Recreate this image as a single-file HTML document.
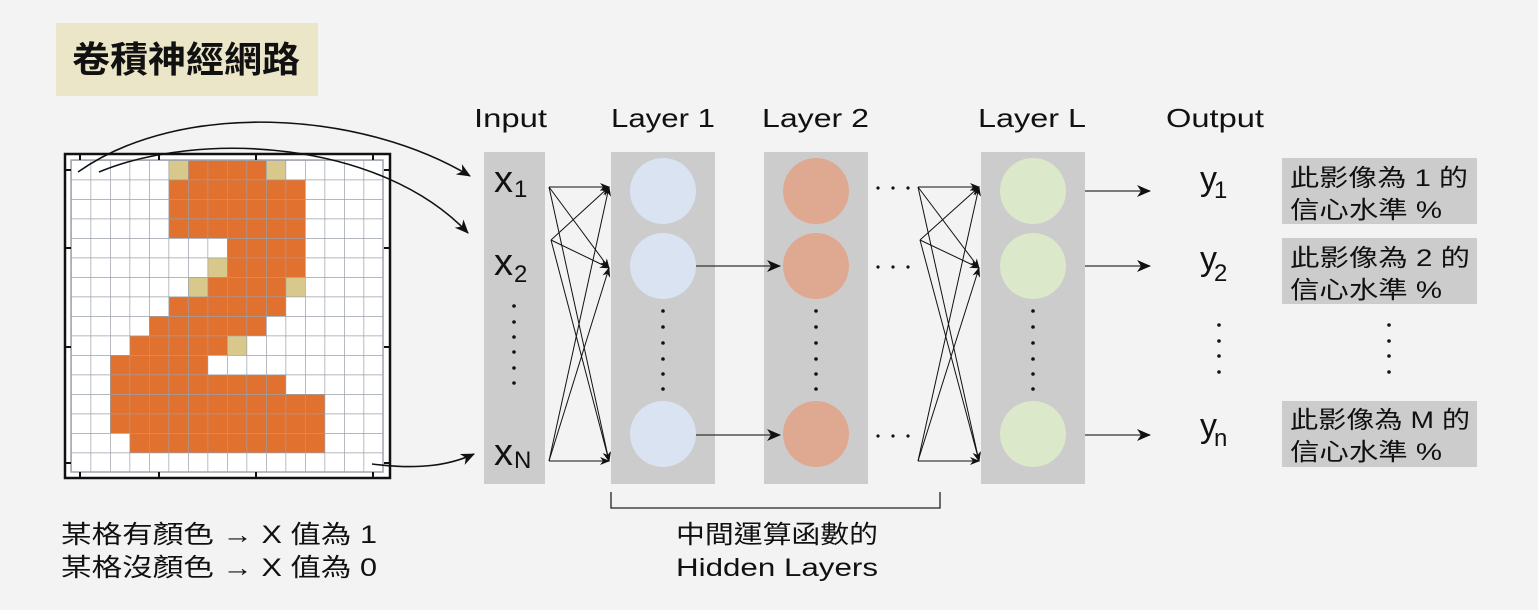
<!DOCTYPE html>
<html><head><meta charset="utf-8"><style>
html,body{margin:0;padding:0;background:#f3f3f3;}
svg{display:block}
text{font-family:"Liberation Sans","Noto Sans CJK TC",sans-serif;fill:#111}
</style></head><body>
<svg width="1538" height="610" viewBox="0 0 1538 610" xmlns="http://www.w3.org/2000/svg">
<defs>
<marker id="ah" markerWidth="10" markerHeight="8" refX="9" refY="4" orient="auto" markerUnits="userSpaceOnUse"><path d="M0,0 L10,4 L0,8 L3,4 Z" fill="#111"/></marker>
<marker id="ah2" markerWidth="14" markerHeight="12" refX="13" refY="6" orient="auto" markerUnits="userSpaceOnUse"><path d="M0,0 L14,6 L0,12 L4,6 Z" fill="#111"/></marker>
<pattern id="grid" x="71" y="160" width="19.5" height="19.5" patternUnits="userSpaceOnUse"><path d="M0,0 H19.5 M0,0 V19.5" stroke="#9aa0a8" stroke-width="1.4" fill="none"/></pattern>
</defs>
<rect x="0" y="0" width="1538" height="610" fill="#f3f3f3"/>
<rect x="56" y="23" width="262" height="73" fill="#ece6c9"/>
<text x="72" y="72" font-size="36" font-weight="bold" textLength="228" lengthAdjust="spacingAndGlyphs">卷積神經網路</text>

<rect x="65" y="154" width="325" height="324" fill="#fff" stroke="#111" stroke-width="2.5"/>
<g fill="#e1712f">
<rect x="188" y="160" width="78" height="19.5"/>
<rect x="168.5" y="179.5" width="136.5" height="58.5"/>
<rect x="227" y="238" width="78" height="39"/>
<rect x="207.5" y="277" width="78" height="19.5"/>
<rect x="168.5" y="296.5" width="117" height="19.5"/>
<rect x="149" y="316" width="117" height="19.5"/>
<rect x="129.5" y="335.5" width="97.5" height="19.5"/>
<rect x="110" y="355" width="97.5" height="19.5"/>
<rect x="110" y="374.5" width="175.5" height="19.5"/>
<rect x="110" y="394" width="214.5" height="39"/>
<rect x="129.5" y="433" width="195" height="19.5"/>
</g>
<g fill="#d8c88c">
<rect x="168.5" y="160" width="19.5" height="19.5"/>
<rect x="266" y="160" width="19.5" height="19.5"/>
<rect x="207.5" y="257.5" width="19.5" height="19.5"/>
<rect x="188" y="277" width="19.5" height="19.5"/>
<rect x="285.5" y="277" width="19.5" height="19.5"/>
<rect x="227" y="335.5" width="19.5" height="19.5"/>
</g>
<rect x="71" y="160" width="312" height="312" fill="url(#grid)"/>
<rect x="71" y="160" width="312" height="312" fill="none" stroke="#9aa0a8" stroke-width="1.4"/>
<g stroke="#111" stroke-width="2">
<line x1="80" y1="154" x2="80" y2="160"/><line x1="159" y1="154" x2="159" y2="160"/><line x1="256" y1="154" x2="256" y2="160"/><line x1="373" y1="154" x2="373" y2="160"/>
<line x1="80" y1="472" x2="80" y2="478"/><line x1="159" y1="472" x2="159" y2="478"/><line x1="256" y1="472" x2="256" y2="478"/><line x1="373" y1="472" x2="373" y2="478"/>
<line x1="65" y1="170" x2="71" y2="170"/><line x1="65" y1="248" x2="71" y2="248"/><line x1="65" y1="347" x2="71" y2="347"/><line x1="65" y1="463" x2="71" y2="463"/>
<line x1="384" y1="170" x2="390" y2="170"/><line x1="384" y1="248" x2="390" y2="248"/><line x1="384" y1="347" x2="390" y2="347"/><line x1="384" y1="463" x2="390" y2="463"/>
</g>
<g fill="none" stroke="#111" stroke-width="1.6">
<path d="M78,172 C180,100 360,110 470,176" marker-end="url(#ah2)"/>
<path d="M99,172 C200,130 380,140 468,233" marker-end="url(#ah2)"/>
<path d="M372,464 C420,470 450,465 474,454" marker-end="url(#ah2)"/>
</g>

<g font-size="26">
<text x="474" y="127" textLength="73" lengthAdjust="spacingAndGlyphs">Input</text>
<text x="611" y="127" textLength="104" lengthAdjust="spacingAndGlyphs">Layer 1</text>
<text x="762" y="127" textLength="107" lengthAdjust="spacingAndGlyphs">Layer 2</text>
<text x="978" y="127" textLength="108" lengthAdjust="spacingAndGlyphs">Layer L</text>
<text x="1166" y="127" textLength="98" lengthAdjust="spacingAndGlyphs">Output</text>
</g>

<g fill="#cccccc">
<rect x="484" y="152" width="61" height="332"/>
<rect x="611" y="152" width="104" height="332"/>
<rect x="764" y="152" width="104" height="332"/>
<rect x="981" y="152" width="104" height="332"/>
</g>
<g fill="#d9e3f1"><circle cx="663" cy="191" r="33"/><circle cx="663" cy="266" r="33"/><circle cx="663" cy="434" r="33"/></g>
<g fill="#dfa991"><circle cx="816" cy="191" r="33"/><circle cx="816" cy="266" r="33"/><circle cx="816" cy="434" r="33"/></g>
<g fill="#dbe8c9"><circle cx="1033" cy="191" r="33"/><circle cx="1033" cy="266" r="33"/><circle cx="1033" cy="434" r="33"/></g>

<g font-size="38">
<text x="494" y="192">x</text><text x="514" y="197" font-size="24">1</text>
<text x="494" y="275">x</text><text x="514" y="282" font-size="24">2</text>
<text x="494" y="465">x</text><text x="514" y="468" font-size="24">N</text>
</g>
<g fill="#111">
<circle cx="514" cy="306" r="1.8"/><circle cx="514" cy="322" r="1.8"/><circle cx="514" cy="337" r="1.8"/><circle cx="514" cy="352" r="1.8"/><circle cx="514" cy="368" r="1.8"/><circle cx="514" cy="383" r="1.8"/>
<circle cx="663" cy="311" r="1.8"/><circle cx="663" cy="327" r="1.8"/><circle cx="663" cy="343" r="1.8"/><circle cx="663" cy="359" r="1.8"/><circle cx="663" cy="374" r="1.8"/><circle cx="663" cy="389" r="1.8"/>
<circle cx="816" cy="311" r="1.8"/><circle cx="816" cy="327" r="1.8"/><circle cx="816" cy="343" r="1.8"/><circle cx="816" cy="359" r="1.8"/><circle cx="816" cy="374" r="1.8"/><circle cx="816" cy="389" r="1.8"/>
<circle cx="1033" cy="311" r="1.8"/><circle cx="1033" cy="327" r="1.8"/><circle cx="1033" cy="343" r="1.8"/><circle cx="1033" cy="359" r="1.8"/><circle cx="1033" cy="374" r="1.8"/><circle cx="1033" cy="389" r="1.8"/>
<circle cx="1219" cy="325" r="1.8"/><circle cx="1219" cy="341" r="1.8"/><circle cx="1219" cy="356" r="1.8"/><circle cx="1219" cy="372" r="1.8"/>
<circle cx="1389" cy="325" r="1.8"/><circle cx="1389" cy="341" r="1.8"/><circle cx="1389" cy="356" r="1.8"/><circle cx="1389" cy="372" r="1.8"/>
<circle cx="878" cy="188" r="1.6"/><circle cx="893" cy="188" r="1.6"/><circle cx="908" cy="188" r="1.6"/>
<circle cx="878" cy="267" r="1.6"/><circle cx="893" cy="267" r="1.6"/><circle cx="908" cy="267" r="1.6"/>
<circle cx="878" cy="436" r="1.6"/><circle cx="893" cy="436" r="1.6"/><circle cx="908" cy="436" r="1.6"/>
</g>

<g stroke="#111" stroke-width="1" fill="none" marker-end="url(#ah)">
<line x1="549" y1="187" x2="609" y2="187"/><line x1="549" y1="187" x2="609" y2="268"/><line x1="549" y1="187" x2="609" y2="461"/>
<line x1="551" y1="240" x2="609" y2="187"/><line x1="551" y1="240" x2="609" y2="268"/><line x1="551" y1="240" x2="609" y2="461"/>
<line x1="549" y1="461" x2="609" y2="187"/><line x1="549" y1="461" x2="609" y2="268"/><line x1="549" y1="461" x2="609" y2="461"/>
<line x1="918" y1="187" x2="979" y2="187"/><line x1="918" y1="187" x2="979" y2="268"/><line x1="918" y1="187" x2="979" y2="461"/>
<line x1="920" y1="240" x2="979" y2="187"/><line x1="920" y1="240" x2="979" y2="268"/><line x1="920" y1="240" x2="979" y2="461"/>
<line x1="918" y1="461" x2="979" y2="187"/><line x1="918" y1="461" x2="979" y2="268"/><line x1="918" y1="461" x2="979" y2="461"/>
</g>
<g stroke="#333" stroke-width="1.2" marker-end="url(#ah2)">
<line x1="696" y1="266" x2="780" y2="266"/><line x1="696" y1="435" x2="780" y2="435"/>
<line x1="1085" y1="191" x2="1150" y2="191"/><line x1="1085" y1="266" x2="1150" y2="266"/><line x1="1085" y1="435" x2="1150" y2="435"/>
</g>

<g font-size="34">
<text x="1200" y="190">y</text><text x="1214" y="198" font-size="24">1</text>
<text x="1200" y="270">y</text><text x="1214" y="281" font-size="24">2</text>
<text x="1200" y="437">y</text><text x="1214" y="446" font-size="24">n</text>
</g>
<g fill="#cccccc">
<rect x="1282" y="158" width="195" height="66"/>
<rect x="1282" y="238" width="195" height="66"/>
<rect x="1282" y="401" width="195" height="66"/>
</g>
<g font-size="24">
<text x="1290" y="186" textLength="178" lengthAdjust="spacingAndGlyphs">此影像為 1 的</text><text x="1290" y="218" textLength="152" lengthAdjust="spacingAndGlyphs">信心水準 %</text>
<text x="1290" y="266" textLength="180" lengthAdjust="spacingAndGlyphs">此影像為 2 的</text><text x="1290" y="298" textLength="152" lengthAdjust="spacingAndGlyphs">信心水準 %</text>
<text x="1290" y="428" textLength="180" lengthAdjust="spacingAndGlyphs">此影像為 M 的</text><text x="1290" y="460" textLength="152" lengthAdjust="spacingAndGlyphs">信心水準 %</text>
</g>

<path d="M611,492 V508 H940 V492" fill="none" stroke="#222" stroke-width="1.3"/>
<g font-size="25">
<text x="676" y="543" textLength="202" lengthAdjust="spacingAndGlyphs">中間運算函數的</text>
<text x="676" y="576" textLength="202" lengthAdjust="spacingAndGlyphs">Hidden Layers</text>
<text x="61" y="543" textLength="316" lengthAdjust="spacingAndGlyphs">某格有顏色 → X 值為 1</text>
<text x="61" y="576" textLength="316" lengthAdjust="spacingAndGlyphs">某格沒顏色 → X 值為 0</text>
</g>
</svg>
</body></html>
